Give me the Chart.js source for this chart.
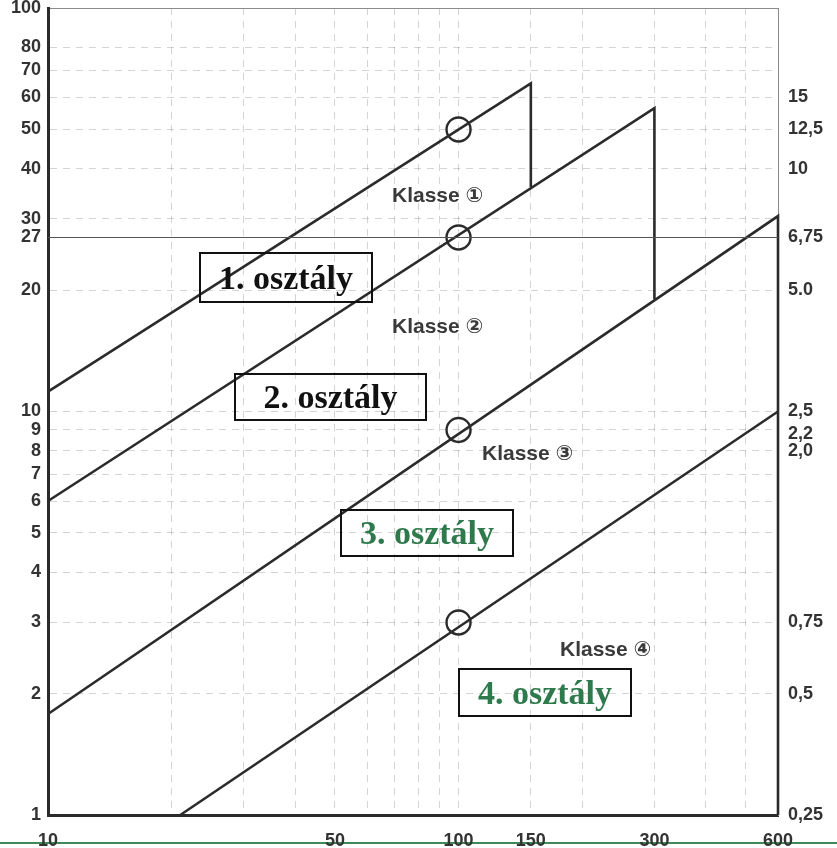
<!DOCTYPE html>
<html>
<head>
<meta charset="utf-8">
<script src="https://cdn.jsdelivr.net/npm/chart.js@4.4.1/dist/chart.umd.min.js"></script>
<style>
  html, body { margin: 0; padding: 0; background: #ffffff; }
  #wrap { position: relative; width: 837px; height: 848px; overflow: hidden; background: #fff; }
  #greenline { position: absolute; left: 0; top: 842px; width: 837px; height: 2px; background: #3f8a57; z-index: 0; }
  #c { position: absolute; left: 0; top: 0; z-index: 1; }
  .klasse { position: absolute; z-index: 2; font-family: 'Liberation Sans', Arial, 'DejaVu Sans', sans-serif; font-weight: bold; font-size: 21px; color: #3a3a3a; white-space: nowrap; line-height: 1; }
  .box { position: absolute; z-index: 2; box-sizing: border-box; border: 2px solid #111; display: flex; align-items: center; justify-content: center; font-family: 'Liberation Serif', 'Times New Roman', serif; font-weight: bold; font-size: 34px; white-space: nowrap; line-height: 1; }
  .black { color: #111; }
  .green { color: #2f7a4c; }
</style>
</head>
<body>
<div id="wrap">
  <div id="greenline"></div>
  <canvas id="c" width="837" height="848"></canvas>
  <div class="klasse" style="left:392px; top:184px;">Klasse ①</div>
  <div class="klasse" style="left:392px; top:315px;">Klasse ②</div>
  <div class="klasse" style="left:482px; top:442px;">Klasse ③</div>
  <div class="klasse" style="left:560px; top:638px;">Klasse ④</div>
  <div class="box black" style="left:199px; top:252px; width:174px; height:51px;">1. osztály</div>
  <div class="box black" style="left:234px; top:373px; width:193px; height:48px;">2. osztály</div>
  <div class="box green" style="left:340px; top:509px; width:174px; height:48px;">3. osztály</div>
  <div class="box green" style="left:458px; top:668px; width:174px; height:49px;">4. osztály</div>
</div>
<script>
// ---- data ----
const xTickValues = [10, 20, 30, 40, 50, 60, 70, 80, 90, 100, 150, 200, 300, 400, 500, 600];
const xLabelValues = [10, 50, 100, 150, 300, 600];
const yTickValues = [1, 2, 3, 4, 5, 6, 7, 8, 9, 10, 20, 27, 30, 40, 50, 60, 70, 80, 100];
const yRightTickValues = [0.25, 0.5, 0.75, 2.0, 2.2, 2.5, 5.0, 6.75, 10, 12.5, 15];
const yRightTickLabels = ['0,25', '0,5', '0,75', '2,0', '2,2', '2,5', '5.0', '6,75', '10', '12,5', '15'];

const class1X = [10, 150, 150];
const class1Y = [11.2, 65, 36];
const class2X = [10, 300, 300];
const class2Y = [6, 56.5, 19];
const class3X = [10, 600, 600];
const class3Y = [1.78, 30.5, 1];
const class4X = [21, 600];
const class4Y = [1, 10];
const refLineX = [10, 600];
const refLineY = [27, 27];
const circleX = [100, 100, 100, 100];
const circleY = [50, 27, 9, 3];

function pts(xs, ys) { return xs.map((x, i) => ({ x: x, y: ys[i] })); }

const LINE = '#2b2b2b';
const GRID = 'rgba(0,0,0,0.17)';
const FRAME = '#8a8a8a';
const tickFont = { family: "'Liberation Sans', Arial, sans-serif", size: 18, weight: 'bold' };

function lineDs(data, width, color) {
  return { type: 'line', data: data, borderColor: color || LINE, borderWidth: width, pointRadius: 0,
           tension: 0, fill: false, clip: false, xAxisID: 'x', yAxisID: 'y' };
}

function noVPad(s) { s.paddingTop = 0; s.paddingBottom = 0; }

new Chart(document.getElementById('c'), {
  data: {
    datasets: [
      lineDs(pts(refLineX, refLineY), 1.1, '#555'),
      lineDs(pts(class1X, class1Y), 2.6),
      lineDs(pts(class2X, class2Y), 2.6),
      lineDs(pts(class3X, class3Y), 2.6),
      lineDs(pts(class4X, class4Y), 2.6),
      { type: 'scatter', data: pts(circleX, circleY), showLine: false, pointRadius: 12, pointHoverRadius: 12,
        pointBorderWidth: 2.4, pointBorderColor: LINE, pointBackgroundColor: 'rgba(0,0,0,0)', clip: false,
        xAxisID: 'x', yAxisID: 'y' }
    ]
  },
  options: {
    responsive: false,
    animation: false,
    devicePixelRatio: 1,
    layout: { autoPadding: false, padding: { top: 8, left: 0, right: 0, bottom: 0 } },
    plugins: { legend: { display: false }, tooltip: { enabled: false } },
    scales: {
      x: {
        type: 'logarithmic', position: 'bottom', min: 10, max: 600,
        afterBuildTicks: s => { s.ticks = xTickValues.map(v => ({ value: v })); },
        afterFit: s => { s.height = 33; s.paddingLeft = 0; s.paddingRight = 0; },
        ticks: { autoSkip: false, maxRotation: 0, minRotation: 0, padding: 15, color: '#333', font: tickFont,
                 callback: v => xLabelValues.includes(v) ? String(v) : '' },
        grid: { drawTicks: false, lineWidth: 1,
                color: c => (c.tick && (c.tick.value === 10 || c.tick.value === 600)) ? 'rgba(0,0,0,0)' : GRID },
        border: { display: true, color: '#2b2b2b', width: 3, dash: [7, 6] }
      },
      y: {
        type: 'logarithmic', position: 'left', min: 1, max: 100,
        afterBuildTicks: s => { s.ticks = yTickValues.map(v => ({ value: v })); },
        afterFit: s => { s.width = 48; noVPad(s); },
        ticks: { autoSkip: false, padding: 7, color: '#333', font: tickFont, callback: v => String(v) },
        grid: { drawTicks: false, lineWidth: 1,
                color: c => {
                  if (!c.tick) return GRID;
                  if (c.tick.value === 100) return FRAME;
                  if (c.tick.value === 1 || c.tick.value === 27) return 'rgba(0,0,0,0)';
                  return GRID;
                } },
        border: { display: true, color: '#2b2b2b', width: 3,
                  dash: c => (c.tick && c.tick.value === 100) ? [] : [7, 6] }
      },
      y2: {
        type: 'logarithmic', position: 'right', min: 0.25, max: 25,
        afterBuildTicks: s => { s.ticks = yRightTickValues.map(v => ({ value: v })); },
        afterFit: s => { s.width = 59; noVPad(s); },
        ticks: { autoSkip: false, padding: 10, color: '#333', font: tickFont,
                 callback: v => { const i = yRightTickValues.indexOf(v); return i >= 0 ? yRightTickLabels[i] : ''; } },
        grid: { drawOnChartArea: false, drawTicks: false },
        border: { display: true, color: FRAME, width: 1 }
      }
    }
  }
});
</script>
</body>
</html>
